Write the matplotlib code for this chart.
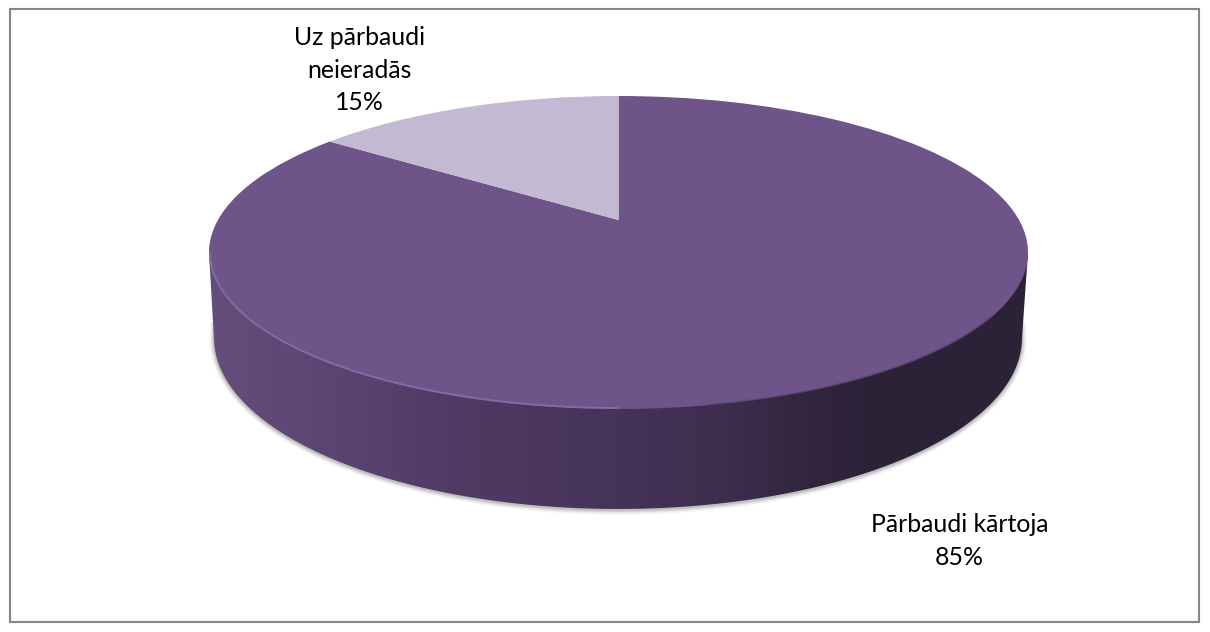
import matplotlib
matplotlib.use('Agg')
import matplotlib.pyplot as plt
import numpy as np
from matplotlib.colors import LinearSegmentedColormap
from matplotlib.patches import Arc, PathPatch, Rectangle
from matplotlib.path import Path
from matplotlib.transforms import Transform

plt.rcParams['font.family'] = ['Lato', 'DejaVu Sans']

labels = ['Pārbaudi kārtoja', 'Uz pārbaudi\nneieradās']
percents = [85, 15]
slice_colors = ['#6e5489', '#c3b9d3']

W, H = 1210, 632
cx, cy, rx, ry = 618.5, 252.5, 409.5, 156.5
apex_y = 220
bx, by, brx, bry = 618, 338, 404, 171

# perspective of the pie top: circle centre lands on apex_y, not on the ellipse centre
k = ((cy + ry - apex_y) - (apex_y - cy + ry)) / (2 * ry)
b = (apex_y - cy + ry) * (1 + k)
a = rx * np.sqrt(1 - k ** 2)


class Tilt(Transform):
    input_dims = 2
    output_dims = 2

    def transform_non_affine(self, values):
        values = np.asarray(values)
        d = 1 + k * values[:, 1]
        return np.c_[cx + a * values[:, 0] / d, apex_y - b * values[:, 1] / d]


fig = plt.figure(figsize=(W / 100, H / 100), dpi=100)
ax = fig.add_axes([0, 0, 1, 1])

wedges, _ = ax.pie(percents, colors=slice_colors, startangle=90, counterclock=False, radius=1)
for w in wedges:
    w.set_transform(Tilt() + ax.transData)
    w.set_clip_on(False)
    w.set_zorder(3)

ax.set_aspect('auto')
ax.set_xlim(0, W)
ax.set_ylim(H, 0)
ax.axis('off')

ax.add_patch(Rectangle((9.5, 8.5), 1189, 613, fill=False, ec='#868686', lw=1.5))


def wall_path(start_x_l, start_x_r, start_y, grow=0, dy=0):
    t = np.linspace(np.pi, 0, 200)
    xs = bx + (brx + grow) * np.cos(t)
    ys = by + dy + (bry + grow) * np.sin(t)
    xs = np.r_[start_x_l, xs, start_x_r]
    ys = np.r_[start_y, ys, start_y]
    return Path(np.c_[xs, ys])


# soft shadow under the side wall
for grow, alpha in zip([5, 4, 3, 2, 1], [0.03, 0.05, 0.08, 0.11, 0.15]):
    ax.add_patch(PathPatch(wall_path(bx - brx - grow + 1, bx + brx + grow - 1, 322, grow, 1),
                           fc='#555555', ec='none', alpha=alpha, zorder=1))

# side wall with left to right shading
wall_cmap = LinearSegmentedColormap.from_list('wall', [
    (0.0, '#644e7c'), (0.115, '#5e4775'), (0.31, '#503a64'), (0.5, '#453358'),
    (0.62, '#3f2e4f'), (0.72, '#33263f'), (0.8, '#2c2238'), (1.0, '#2c2238')])
grad = np.linspace(0, 1, 512).reshape(1, -1)
img = ax.imshow(grad, cmap=wall_cmap, extent=(205, 1032, 520, 240), aspect='auto', zorder=2)
ax.set_xlim(0, W)
ax.set_ylim(H, 0)
clip = PathPatch(wall_path(cx - rx, cx + rx, cy), transform=ax.transData, fc='none', ec='none')
ax.add_patch(clip)
img.set_clip_path(clip)

# light rim on the lower left, dark one on the lower right
ax.add_patch(Arc((cx, cy), 2 * rx - 2, 2 * ry - 2, theta1=90, theta2=180,
                 ec='#8a72ad', lw=1.3, alpha=0.8, zorder=4))
ax.add_patch(Arc((cx, cy), 2 * rx - 1, 2 * ry - 1, theta1=10, theta2=60,
                 ec='#4d3b60', lw=1.2, alpha=0.5, zorder=4))

ax.text(959.5, 541, f'{labels[0]}\n{percents[0]}%', ha='center', va='center',
        fontsize=17.9, color='black', linespacing=1.5, zorder=5)
ax.text(359, 70, f'{labels[1]}\n{percents[1]}%', ha='center', va='center',
        fontsize=17.9, color='black', linespacing=1.5, zorder=5)

fig.savefig('out.png', dpi=100, facecolor='white')
